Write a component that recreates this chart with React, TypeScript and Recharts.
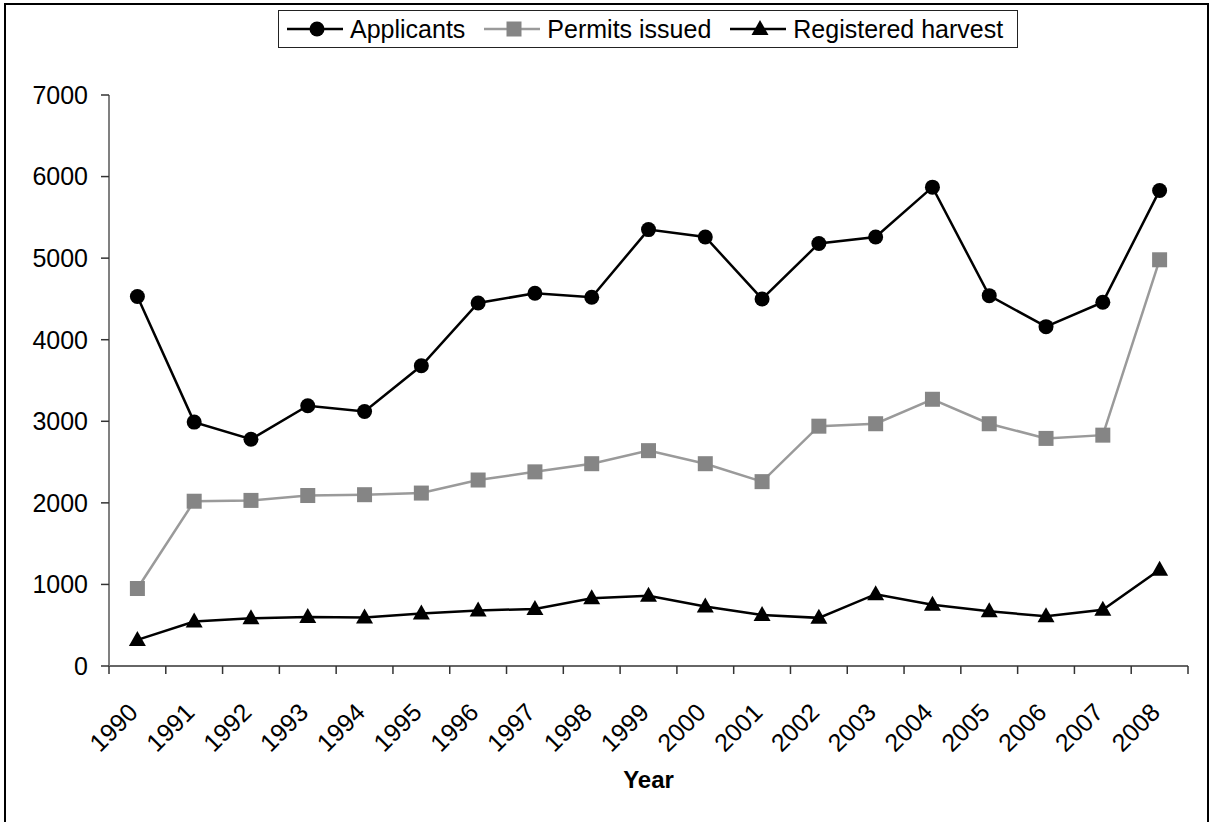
import * as React from 'react';
import { LineChart, Line, XAxis, YAxis } from 'recharts';

const years = ['1990', '1991', '1992', '1993', '1994', '1995', '1996', '1997', '1998', '1999', '2000', '2001', '2002', '2003', '2004', '2005', '2006', '2007', '2008'];
const applicants = [4530, 2990, 2780, 3190, 3120, 3680, 4450, 4570, 4520, 5350, 5260, 4500, 5180, 5260, 5870, 4540, 4160, 4460, 5830];
const permitsIssued = [950, 2020, 2030, 2090, 2100, 2120, 2280, 2380, 2480, 2640, 2480, 2260, 2940, 2970, 3270, 2970, 2790, 2830, 4980];
const registeredHarvest = [320, 545, 585, 600, 595, 645, 680, 700, 830, 860, 730, 625, 590, 880, 750, 670, 610, 690, 1180];
const yTicks = [0, 1000, 2000, 3000, 4000, 5000, 6000, 7000];

const FONT = 'Arial, "Liberation Sans", sans-serif';
const PLOT_W = 1079;
const STEP = PLOT_W / years.length;
const GREY_LINE = '#9a9a9a';
const GREY_MARK = '#858585';

const data = years.map((year, i) => ({
  year,
  applicants: applicants[i],
  permits: permitsIssued[i],
  harvest: registeredHarvest[i],
}));

const CircleDot = (props: any) => {
  const { cx, cy, index } = props;
  return <circle key={`c-${index}`} cx={cx} cy={cy} r={7.5} fill="#000" />;
};

const SquareDot = (props: any) => {
  const { cx, cy, index } = props;
  return <rect key={`s-${index}`} x={cx - 7.5} y={cy - 7.5} width={15} height={15} fill={GREY_MARK} />;
};

const TriangleDot = (props: any) => {
  const { cx, cy, index } = props;
  return (
    <polygon
      key={`t-${index}`}
      points={`${cx},${cy - 9} ${cx + 8.5},${cy + 6} ${cx - 8.5},${cy + 6}`}
      fill="#000"
    />
  );
};

// labels sit in the band centre, tick marks on the band edges (Excel style)
const YearTick = (props: any) => {
  const { x, y, payload, index } = props;
  const half = STEP / 2;
  const ax = x + 2;
  const ay = y + 40;
  return (
    <g>
      <line x1={x - half} x2={x - half} y1={y - 8} y2={y} stroke="#333" strokeWidth={1.5} />
      {index === years.length - 1 && (
        <line x1={x + half} x2={x + half} y1={y - 8} y2={y} stroke="#333" strokeWidth={1.5} />
      )}
      <text
        x={ax}
        y={ay}
        textAnchor="end"
        transform={`rotate(-45, ${ax}, ${ay})`}
        fontSize={25}
        fontFamily={FONT}
        fill="#000"
      >
        {payload.value}
      </text>
    </g>
  );
};

const LegendIcon = ({ kind }: { kind: 'circle' | 'square' | 'triangle' }) => {
  const color = kind === 'square' ? GREY_LINE : '#000';
  return (
    <svg width={56} height={20} style={{ display: 'block' }}>
      <line x1={0} x2={56} y1={10} y2={10} stroke={color} strokeWidth={2.5} />
      {kind === 'circle' && <circle cx={30} cy={10} r={7.5} fill="#000" />}
      {kind === 'square' && <rect x={22.5} y={2.5} width={15} height={15} fill={GREY_MARK} />}
      {kind === 'triangle' && <polygon points="30,1 38.5,16 21.5,16" fill="#000" />}
    </svg>
  );
};

const legendItems: { label: string; kind: 'circle' | 'square' | 'triangle' }[] = [
  { label: 'Applicants', kind: 'circle' },
  { label: 'Permits issued', kind: 'square' },
  { label: 'Registered harvest', kind: 'triangle' },
];

export default function App() {
  return (
    <div style={{ position: 'relative', width: 1209, height: 822, overflow: 'hidden', background: '#fff' }}>
      <style>{'body{margin:0;}'}</style>
      <div
        style={{
          position: 'absolute',
          left: 4,
          top: 3,
          width: 1205,
          height: 830,
          border: '2px solid #000',
          boxSizing: 'border-box',
        }}
      />
      <div
        style={{
          position: 'absolute',
          left: 278,
          top: 10,
          height: 38,
          boxSizing: 'border-box',
          border: '1.5px solid #222',
          display: 'flex',
          alignItems: 'center',
          paddingLeft: 8,
          paddingRight: 14,
          fontFamily: FONT,
          fontSize: 25,
          background: '#fff',
          zIndex: 2,
        }}
      >
        {legendItems.map((item, i) => (
          <div key={item.label} style={{ display: 'flex', alignItems: 'center', marginLeft: i === 0 ? 0 : 19 }}>
            <LegendIcon kind={item.kind} />
            <span style={{ marginLeft: 7, lineHeight: '25px' }}>{item.label}</span>
          </div>
        ))}
      </div>
      <div style={{ position: 'absolute', left: 0, top: 0 }}>
        <LineChart width={1209} height={822} data={data} margin={{ top: 95, right: 21, bottom: 26, left: 9 }}>
          <XAxis
            dataKey="year"
            type="category"
            interval={0}
            padding={{ left: STEP / 2, right: STEP / 2 }}
            tickLine={false}
            tickSize={8}
            tickMargin={0}
            height={130}
            axisLine={{ stroke: '#333', strokeWidth: 1.5 }}
            tick={<YearTick />}
            label={{
              value: 'Year',
              position: 'insideBottom',
              offset: 8,
              style: { fontFamily: FONT, fontSize: 24, fontWeight: 'bold', fill: '#000' },
            }}
          />
          <YAxis
            domain={[0, 7000]}
            ticks={yTicks}
            width={100}
            tickSize={8}
            tickMargin={13}
            interval={0}
            axisLine={{ stroke: '#808080', strokeWidth: 2 }}
            tickLine={{ stroke: '#333', strokeWidth: 1.5 }}
            tick={{ fontFamily: FONT, fontSize: 25, fill: '#000' }}
          />
          <Line
            type="linear"
            dataKey="applicants"
            stroke="#000"
            strokeWidth={2.5}
            dot={<CircleDot />}
            isAnimationActive={false}
          />
          <Line
            type="linear"
            dataKey="permits"
            stroke={GREY_LINE}
            strokeWidth={2.5}
            dot={<SquareDot />}
            isAnimationActive={false}
          />
          <Line
            type="linear"
            dataKey="harvest"
            stroke="#000"
            strokeWidth={2.5}
            dot={<TriangleDot />}
            isAnimationActive={false}
          />
        </LineChart>
      </div>
    </div>
  );
}
